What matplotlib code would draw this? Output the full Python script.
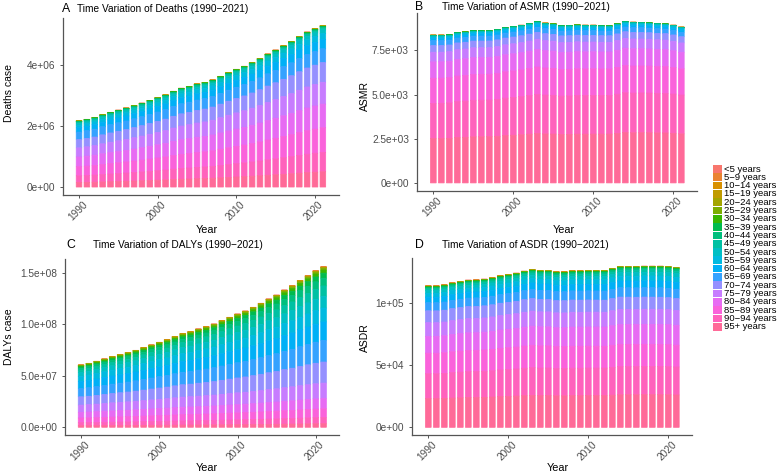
import numpy as np
import matplotlib
matplotlib.use("Agg")
import matplotlib.pyplot as plt
from matplotlib.patches import Rectangle
from matplotlib.transforms import ScaledTranslation

plt.rcParams['font.family'] = ['Liberation Sans', 'DejaVu Sans']

# ---------------- data ----------------
years = list(range(1990, 2022))
age_groups = ["<5 years", "5\u22129 years", "10\u221214 years", "15\u221219 years", "20\u221224 years",
              "25\u221229 years", "30\u221234 years", "35\u221239 years", "40\u221244 years", "45\u221249 years",
              "50\u221254 years", "55\u221259 years", "60\u221264 years", "65\u221269 years", "70\u221274 years",
              "75\u221279 years", "80\u221284 years", "85\u221289 years", "90\u221294 years", "95+ years"]

# bar totals
deaths_total = [2.17, 2.22, 2.28, 2.37, 2.45, 2.52, 2.59, 2.67, 2.75, 2.84,
                2.93, 3.02, 3.14, 3.24, 3.30, 3.38, 3.43, 3.51, 3.63, 3.75,
                3.86, 3.96, 4.08, 4.21, 4.36, 4.49, 4.63, 4.77, 4.93, 5.08,
                5.19, 5.29]            # x 1e6
asmr_total = [8.37, 8.37, 8.40, 8.52, 8.56, 8.63, 8.63, 8.63, 8.69, 8.80,
              8.86, 8.93, 9.03, 9.14, 9.05, 9.01, 8.91, 8.92, 8.95, 8.93,
              8.93, 8.91, 8.90, 9.01, 9.14, 9.10, 9.09, 9.07, 9.03, 9.01,
              8.93, 8.82]              # x 1e3
dalys_total = [6.04, 6.20, 6.40, 6.62, 6.85, 7.04, 7.24, 7.46, 7.72, 7.98,
               8.24, 8.49, 8.79, 9.08, 9.27, 9.53, 9.75, 10.01, 10.34, 10.66,
               10.98, 11.27, 11.63, 12.02, 12.44, 12.82, 13.31, 13.73, 14.24, 14.70,
               15.18, 15.57]           # x 1e7
asdr_total = [11.36, 11.36, 11.44, 11.60, 11.71, 11.82, 11.84, 11.90, 12.01, 12.17,
              12.27, 12.38, 12.54, 12.67, 12.59, 12.59, 12.49, 12.49, 12.57, 12.57,
              12.59, 12.59, 12.59, 12.75, 12.91, 12.91, 12.91, 12.94, 12.94, 12.94,
              12.91, 12.83]            # x 1e4

# age shares (per 10 000) of each bar, estimated from the colour bands
# ---- Deaths ----
deaths_s00 = [12,12,12,12,11,11,11,11,11,11,10,10,10,10,10,10, 10,10,9,9,9,9,9,9,9,9,8,8,8,8,8,8]
deaths_s05 = [6,6,6,6,6,6,6,6,6,5,5,5,5,5,5,5, 5,5,5,5,5,5,5,4,4,4,4,4,4,4,4,4]
deaths_s10 = [6,6,6,6,6,6,6,6,6,5,5,5,5,5,5,5, 5,5,5,5,5,5,5,4,4,4,4,4,4,4,4,4]
deaths_s15 = [8,8,8,8,8,8,8,8,7,7,7,7,7,7,7,7, 7,7,7,7,7,7,6,6,6,6,6,6,6,6,6,6]
deaths_s20 = [12,12,12,12,11,11,11,11,11,11,10,10,10,10,10,10, 10,10,9,9,9,9,9,9,9,9,8,8,8,8,8,8]
deaths_s25 = [20,20,19,19,19,19,18,18,18,18,17,17,17,17,16,16, 16,16,15,15,15,15,14,14,14,14,13,13,13,13,12,12]
deaths_s30 = [30,30,29,29,29,28,28,28,27,27,27,26,26,26,25,25, 25,25,24,24,24,23,23,23,22,22,22,21,21,21,20,20]
deaths_s35 = [50,49,49,48,47,47,46,45,45,44,44,43,42,42,41,40, 40,39,38,38,37,36,36,35,34,34,33,32,32,31,31,30]
deaths_s40 = [90,89,88,87,86,85,84,83,82,81,80,79,78,77,76,75, 75,74,73,72,71,70,69,68,67,66,65,64,63,62,61,60]
deaths_s45 = [160,158,157,155,153,152,150,149,147,145,144,142,140,139,137,136, 134,132,131,129,127,126,124,123,121,119,118,116,114,113,111,110]
deaths_s50 = [250,249,249,248,247,247,246,245,245,244,244,243,242,242,241,240, 240,239,238,238,237,236,236,235,234,234,233,232,232,231,231,230]
deaths_s55 = [410,409,408,407,406,405,404,403,402,401,400,399,398,397,396,395, 395,394,393,392,391,390,389,388,387,386,385,384,383,382,381,380]
deaths_s60 = [650,647,645,642,640,637,635,632,629,627,624,622,619,616,614,611, 609,606,604,601,598,596,593,591,588,585,583,580,578,575,573,570]
deaths_s65 = [1150,1140,1131,1121,1111,1102,1092,1082,1073,1063,1053,1044,1034,1024,1015,1005, 995,985,976,966,956,947,937,927,918,908,898,889,879,869,860,850]
deaths_s70 = [1240,1242,1244,1246,1248,1250,1250,1250,1248,1246,1244,1242,1240,1240,1240,1240, 1240,1240,1238,1236,1234,1232,1230,1230,1230,1230,1230,1230,1230,1230,1230,1230]
deaths_s75 = [1380,1382,1384,1386,1388,1390,1392,1394,1396,1398,1400,1400,1398,1396,1394,1392, 1390,1388,1386,1384,1382,1380,1378,1376,1374,1372,1370,1368,1366,1364,1362,1360]
deaths_s80 = [1470,1472,1474,1476,1478,1480,1482,1484,1486,1488,1490,1490,1490,1490,1490,1488, 1486,1484,1482,1480,1478,1476,1475,1474,1473,1472,1471,1470,1470,1470,1470,1470]
deaths_s85 = [1380,1385,1390,1395,1399,1404,1409,1414,1419,1424,1428,1433,1438,1443,1448,1453, 1457,1462,1467,1472,1477,1482,1486,1491,1496,1501,1506,1511,1515,1520,1525,1530]
deaths_s90 = [1010,1016,1023,1029,1036,1042,1049,1055,1062,1068,1075,1081,1087,1094,1100,1107, 1113,1120,1126,1133,1139,1145,1152,1158,1165,1171,1178,1184,1191,1197,1204,1210]
deaths_s95 = [690,698,707,715,724,732,740,749,757,765,774,782,791,799,807,816, 824,833,841,849,858,866,875,883,891,900,908,916,925,933,942,950]

# ---- ASMR ----
asmr_s00 = [6,6,6,6,6,6,6,6,6,6,6,6,6,6,6,6, 5,5,5,5,5,5,5,5,5,5,5,5,5,5,5,5]
asmr_s05 = [2,2,2,2,2,2,2,2,2,2,2,2,2,2,2,2, 1,1,1,1,1,1,1,1,1,1,1,1,1,1,1,1]
asmr_s10 = [2,2,2,2,2,2,2,2,2,2,2,2,2,2,2,2, 1,1,1,1,1,1,1,1,1,1,1,1,1,1,1,1]
asmr_s15 = [2,2,2,2,2,2,2,2,2,2,2,2,2,2,2,2, 2,2,2,2,2,2,2,2,2,2,2,2,2,2,2,2]
asmr_s20 = [4,4,4,4,4,4,4,4,3,3,3,3,3,3,3,3, 3,3,3,3,3,3,2,2,2,2,2,2,2,2,2,2]
asmr_s25 = [5,5,5,5,5,5,5,5,4,4,4,4,4,4,4,4, 4,4,4,4,4,4,3,3,3,3,3,3,3,3,3,3]
asmr_s30 = [7,7,7,7,7,7,7,7,6,6,6,6,6,6,6,6, 6,6,6,6,6,6,5,5,5,5,5,5,5,5,5,5]
asmr_s35 = [12,12,12,12,11,11,11,11,11,11,10,10,10,10,10,10, 10,10,9,9,9,9,9,9,9,9,8,8,8,8,8,8]
asmr_s40 = [18,18,18,18,17,17,17,17,17,17,16,16,16,16,16,16, 16,16,15,15,15,15,15,15,15,15,14,14,14,14,14,14]
asmr_s45 = [30,30,30,29,29,29,29,28,28,28,28,27,27,27,27,26, 26,26,26,25,25,25,25,24,24,24,24,24,23,23,23,23]
asmr_s50 = [48,48,48,48,48,47,47,47,47,47,47,47,47,47,47,47, 46,46,46,46,46,46,46,46,46,46,45,45,45,45,45,45]
asmr_s55 = [83,83,83,83,83,82,82,82,82,82,82,82,81,81,81,81, 81,81,81,80,80,80,80,80,80,80,79,79,79,79,79,79]
asmr_s60 = [155,155,154,154,154,154,153,153,153,153,152,152,152,152,151,151, 151,151,150,150,150,150,149,149,149,149,148,148,148,148,147,147]
asmr_s65 = [333,331,330,328,327,325,323,322,320,318,317,315,314,312,310,309, 307,306,304,302,301,299,298,296,294,293,291,289,288,286,285,283]
asmr_s70 = [452,450,448,447,445,443,441,440,438,436,434,432,431,429,427,425, 424,422,420,418,417,415,413,411,409,408,406,404,402,401,399,397]
asmr_s75 = [655,653,651,650,648,646,644,643,641,639,637,635,634,632,630,628, 627,625,623,621,620,618,616,614,612,611,609,607,605,604,602,600]
asmr_s80 = [1107,1106,1104,1103,1102,1100,1099,1098,1096,1095,1093,1092,1091,1089,1088,1087, 1085,1084,1083,1081,1080,1079,1077,1076,1074,1073,1072,1070,1069,1068,1066,1065]
asmr_s85 = [1702,1701,1700,1700,1699,1698,1697,1696,1696,1695,1694,1693,1692,1692,1691,1690, 1689,1688,1687,1687,1686,1685,1684,1683,1683,1682,1681,1680,1679,1679,1678,1677]
asmr_s90 = [2380,2384,2387,2391,2395,2398,2402,2406,2409,2413,2416,2420,2424,2427,2431,2435, 2438,2442,2446,2449,2453,2457,2460,2464,2467,2471,2475,2478,2482,2486,2489,2493]
asmr_s95 = [2999,3004,3009,3014,3018,3023,3028,3033,3038,3043,3048,3053,3057,3062,3067,3072, 3077,3082,3087,3092,3096,3101,3106,3111,3116,3121,3126,3131,3135,3140,3145,3150]

# ---- DALYs ----
dalys_s00 = [17,17,17,17,17,17,17,17,17,17,18,18,18,18,18,18, 18,18,18,18,18,18,18,19,19,19,19,19,19,19,19,19]
dalys_s05 = [10,10,10,10,10,10,10,10,10,10,10,10,10,10,10,10, 10,10,10,10,10,10,10,10,10,10,10,10,10,10,10,10]
dalys_s10 = [13,13,13,13,13,13,14,14,14,14,14,14,14,14,14,14, 15,15,15,15,15,15,15,15,15,15,16,16,16,16,16,16]
dalys_s15 = [25,25,25,25,25,25,25,25,25,25,25,25,25,25,25,25, 26,26,26,26,26,26,26,26,26,26,26,26,26,26,26,26]
dalys_s20 = [41,41,41,41,41,42,42,42,42,42,42,42,42,43,43,43, 43,43,43,43,43,44,44,44,44,44,44,44,45,45,45,45]
dalys_s25 = [83,83,84,84,85,85,86,86,86,87,87,88,88,88,89,89, 90,90,91,91,91,92,92,93,93,93,94,94,95,95,96,96]
dalys_s30 = [132,134,136,138,140,142,144,146,147,149,151,153,155,157,159,161, 163,165,167,169,171,173,175,177,178,180,182,184,186,188,190,192]
dalys_s35 = [199,203,207,211,215,218,222,226,230,234,238,242,246,250,254,258, 261,265,269,273,277,281,285,289,293,297,300,304,308,312,316,320]
dalys_s40 = [298,304,310,316,321,327,333,339,345,351,357,363,368,374,380,386, 392,398,404,410,415,421,427,433,439,445,451,457,462,468,474,480]
dalys_s45 = [414,421,429,436,443,450,458,465,472,480,487,494,501,509,516,523, 531,538,545,552,560,567,574,582,589,596,603,611,618,625,633,640]
dalys_s50 = [579,584,589,594,599,604,609,614,620,625,630,635,640,645,650,655, 660,665,670,675,680,685,690,695,701,706,711,716,721,726,731,736]
dalys_s55 = [827,828,829,831,832,833,834,835,837,838,839,840,841,843,844,845, 846,847,848,850,851,852,853,854,856,857,858,859,860,862,863,864]
dalys_s60 = [1158,1158,1158,1157,1157,1157,1157,1157,1156,1156,1156,1156,1156,1155,1155,1155, 1155,1155,1154,1154,1154,1154,1154,1153,1153,1153,1153,1153,1152,1152,1152,1152]
dalys_s65 = [1324,1325,1325,1326,1327,1327,1328,1329,1329,1330,1330,1331,1332,1332,1333,1334, 1334,1335,1336,1336,1337,1338,1338,1339,1339,1340,1341,1341,1342,1343,1343,1344]
dalys_s70 = [1324,1324,1323,1323,1322,1322,1322,1321,1321,1320,1320,1320,1319,1319,1318,1318, 1318,1317,1317,1317,1316,1316,1315,1315,1315,1314,1314,1313,1313,1313,1312,1312]
dalys_s75 = [1158,1152,1145,1139,1132,1126,1120,1113,1107,1101,1094,1088,1081,1075,1069,1062, 1056,1049,1043,1037,1030,1024,1017,1011,1005,998,992,986,979,973,966,960]
dalys_s80 = [910,901,893,884,875,866,858,849,840,832,823,814,805,797,788,779, 771,762,753,745,736,727,718,710,701,692,684,675,666,658,649,640]
dalys_s85 = [745,739,732,726,719,713,706,700,693,687,680,674,667,661,654,648, 641,635,628,622,615,609,602,596,589,583,576,570,563,557,550,544]
dalys_s90 = [496,492,489,485,482,478,474,471,467,463,460,456,453,449,445,442, 438,434,431,427,424,420,416,413,409,406,402,398,395,391,387,384]
dalys_s95 = [248,247,246,246,245,244,243,243,242,241,240,239,239,238,237,236, 236,235,234,233,233,232,231,230,229,229,228,227,226,226,225,224]

# ---- ASDR ----
asdr_s00 = [18,18,18,18,18,18,18,18,17,17,17,17,17,17,17,17, 17,17,17,17,17,17,17,16,16,16,16,16,16,16,16,16]
asdr_s05 = [6,6,6,6,6,6,6,6,6,5,5,5,5,5,5,5, 5,5,5,5,5,5,5,4,4,4,4,4,4,4,4,4]
asdr_s10 = [7,7,7,7,7,7,7,7,6,6,6,6,6,6,6,6, 6,6,6,6,6,6,6,5,5,5,5,5,5,5,5,5]
asdr_s15 = [9,9,9,9,9,9,8,8,8,8,8,8,8,8,8,7, 7,7,7,7,7,7,7,7,7,6,6,6,6,6,6,6]
asdr_s20 = [13,13,13,13,12,12,12,12,12,12,11,11,11,11,11,11, 10,10,10,10,10,10,9,9,9,9,9,9,8,8,8,8]
asdr_s25 = [18,18,18,18,18,18,18,18,17,17,17,17,17,17,17,17, 17,17,17,17,17,17,17,16,16,16,16,16,16,16,16,16]
asdr_s30 = [26,26,26,26,27,27,27,27,27,27,28,28,28,28,28,28, 29,29,29,29,29,29,30,30,30,30,30,30,30,31,31,31]
asdr_s35 = [44,44,45,45,45,46,46,46,47,47,47,48,48,48,49,49, 49,49,50,50,50,51,51,51,52,52,52,53,53,53,54,54]
asdr_s40 = [79,79,80,80,81,81,82,82,83,83,84,84,84,85,85,86, 86,87,87,88,88,89,89,89,90,90,91,91,92,92,93,93]
asdr_s45 = [123,124,125,126,127,128,129,130,132,133,134,135,136,137,138,139, 140,141,142,143,144,145,146,147,149,150,151,152,153,154,155,156]
asdr_s50 = [194,195,197,198,199,200,202,203,204,205,207,208,209,210,212,213, 214,215,217,218,219,220,222,223,224,225,227,228,229,230,232,233]
asdr_s55 = [264,266,267,269,270,272,273,275,276,278,279,281,282,284,285,287, 288,290,291,293,294,296,297,299,300,302,303,305,306,308,309,311]
asdr_s60 = [396,397,398,399,400,401,402,403,404,405,406,407,408,409,410,411, 413,414,415,416,417,418,419,420,421,422,423,424,425,426,427,428]
asdr_s65 = [572,572,573,573,574,574,574,575,575,575,576,576,576,577,577,577, 578,578,578,579,579,579,580,580,581,581,581,582,582,583,583,584]
asdr_s70 = [836,833,830,827,823,820,817,814,811,808,805,802,798,795,792,789, 786,783,780,777,773,770,767,764,761,758,755,752,748,745,742,739]
asdr_s75 = [968,967,966,965,964,963,961,960,959,958,957,956,955,954,953,952, 950,949,948,947,946,945,944,943,942,941,939,938,937,936,935,934]
asdr_s80 = [1188,1190,1192,1194,1195,1197,1199,1201,1203,1205,1206,1208,1210,1212,1214,1216, 1217,1219,1221,1223,1225,1227,1228,1230,1232,1234,1236,1238,1239,1241,1243,1245]
asdr_s85 = [1452,1449,1446,1443,1440,1437,1435,1432,1429,1426,1423,1420,1417,1414,1411,1408, 1406,1403,1400,1397,1394,1391,1388,1385,1382,1379,1377,1374,1371,1368,1365,1362]
asdr_s90 = [1761,1761,1760,1760,1760,1759,1759,1759,1758,1758,1758,1757,1757,1757,1756,1756, 1756,1755,1755,1755,1754,1754,1754,1753,1753,1753,1752,1752,1752,1751,1751,1751]
asdr_s95 = [2025,2025,2025,2025,2025,2025,2025,2025,2025,2025,2025,2025,2025,2025,2025,2025, 2024,2024,2024,2024,2024,2024,2024,2024,2024,2024,2024,2024,2024,2024,2024,2024]

deaths_shares = [deaths_s00, deaths_s05, deaths_s10, deaths_s15, deaths_s20, deaths_s25, deaths_s30,
                 deaths_s35, deaths_s40, deaths_s45, deaths_s50, deaths_s55, deaths_s60, deaths_s65,
                 deaths_s70, deaths_s75, deaths_s80, deaths_s85, deaths_s90, deaths_s95]
asmr_shares = [asmr_s00, asmr_s05, asmr_s10, asmr_s15, asmr_s20, asmr_s25, asmr_s30,
               asmr_s35, asmr_s40, asmr_s45, asmr_s50, asmr_s55, asmr_s60, asmr_s65,
               asmr_s70, asmr_s75, asmr_s80, asmr_s85, asmr_s90, asmr_s95]
dalys_shares = [dalys_s00, dalys_s05, dalys_s10, dalys_s15, dalys_s20, dalys_s25, dalys_s30,
                dalys_s35, dalys_s40, dalys_s45, dalys_s50, dalys_s55, dalys_s60, dalys_s65,
                dalys_s70, dalys_s75, dalys_s80, dalys_s85, dalys_s90, dalys_s95]
asdr_shares = [asdr_s00, asdr_s05, asdr_s10, asdr_s15, asdr_s20, asdr_s25, asdr_s30,
               asdr_s35, asdr_s40, asdr_s45, asdr_s50, asdr_s55, asdr_s60, asdr_s65,
               asdr_s70, asdr_s75, asdr_s80, asdr_s85, asdr_s90, asdr_s95]

# ---------------- helpers ----------------
def hcl_rgb(h, c=100.0, l=65.0):
    hr = np.deg2rad(h)
    U, V = c * np.cos(hr), c * np.sin(hr)
    Xn, Yn, Zn = 95.047, 100.0, 108.883
    den = Xn + 15 * Yn + 3 * Zn
    un, vn = 4 * Xn / den, 9 * Yn / den
    Y = Yn * ((l + 16) / 116) ** 3
    u = U / (13 * l) + un
    v = V / (13 * l) + vn
    X = 9.0 * Y * u / (4 * v)
    Z = -X / 3 - 5 * Y + 3 * Y / v
    X, Y, Z = X / 100, Y / 100, Z / 100
    r = 3.240479 * X - 1.537150 * Y - 0.498535 * Z
    g = -0.969256 * X + 1.875992 * Y + 0.041556 * Z
    b = 0.055648 * X - 0.204043 * Y + 1.057311 * Z
    def gam(t):
        return 12.92 * t if t <= 0.0031308 else 1.055 * t ** (1 / 2.4) - 0.055
    return tuple(min(1.0, max(0.0, gam(t))) for t in (r, g, b))

n_age = len(age_groups)
colors = [hcl_rgb(15 + 360.0 * i / n_age) for i in range(n_age)]

W, H = 782, 473
fig = plt.figure(figsize=(W / 100, H / 100), dpi=100)
fig.patch.set_facecolor('white')

AX_COL = '#555555'
TXT_COL = '#4d4d4d'

def fx(x):
    return x / W

def fy(y):
    return 1 - y / H

def panel(rect, totals, shares, unit, yticks, ylabels, tag, title, tagxy, titlexy,
          ylab, ylabxy, xlabxy):
    left, top, right, bottom = rect
    ax = fig.add_axes([fx(left), fy(bottom), fx(right) - fx(left), fy(top) - fy(bottom)])
    sh = np.array(shares, dtype=float)
    frac = sh / sh.sum(axis=0)
    vals = frac * np.array(totals) * unit
    # stacked: 95+ at the bottom, <5 on top (drawn top group first so the
    # big lower bands sit over the thin outlines of the tiny young-age bands)
    below = np.cumsum(vals[::-1], axis=0)[::-1] - vals   # base of each band
    for i in range(n_age):
        ax.bar(years, vals[i], width=0.72, bottom=below[i], color=colors[i],
               edgecolor=colors[i], linewidth=0.5, snap=False)
    ymax = max(totals) * unit
    ax.set_ylim(-0.05 * ymax, 1.05 * ymax)
    ax.set_xlim(1988.0, 2023.0)
    for s in ('top', 'right'):
        ax.spines[s].set_visible(False)
    for s in ('left', 'bottom'):
        ax.spines[s].set_color(AX_COL)
        ax.spines[s].set_linewidth(0.9)
        ax.spines[s].set_zorder(5)
    ax.set_yticks(yticks)
    ax.set_yticklabels(ylabels)
    ax.set_xticks([1990, 2000, 2010, 2020])
    ax.set_xticklabels(['1990', '2000', '2010', '2020'], rotation=45, ha='right', va='top',
                       rotation_mode='anchor')
    ax.tick_params(axis='both', colors=AX_COL, labelcolor=TXT_COL, labelsize=7.3,
                   length=2.5, width=0.7)
    ax.tick_params(axis='y', pad=3.5)
    ax.tick_params(axis='x', pad=0.5)
    shift = ScaledTranslation(3 / 100, 0, fig.dpi_scale_trans)
    for lab in ax.get_xticklabels():
        lab.set_transform(lab.get_transform() + shift)
    fig.text(fx(tagxy[0]), fy(tagxy[1]), tag, fontsize=8.8, ha='left', va='center', color='black')
    fig.text(fx(titlexy[0]), fy(titlexy[1]), title, fontsize=7.3, ha='left', va='center',
             color='black')
    fig.text(fx(ylabxy[0]), fy(ylabxy[1]), ylab, fontsize=7.5, rotation=90, ha='center',
             va='center', color='black')
    fig.text(fx(xlabxy[0]), fy(xlabxy[1]), 'Year', fontsize=7.8, ha='center', va='center',
             color='black')
    return ax

panel((63.3, 17.6, 338.6, 195.1), deaths_total, deaths_shares, 1e6,
      [0, 2e6, 4e6], ['0e+00', '2e+06', '4e+06'],
      'A', 'Time Variation of Deaths (1990\u22122021)', (62, 9), (77, 9),
      'Deaths case', (9, 93), (207, 230))
panel((417.3, 13.4, 697.3, 191.0), asmr_total, asmr_shares, 1e3,
      [0, 2500, 5000, 7500], ['0e+00', '2.5e+03', '5.0e+03', '7.5e+03'],
      'B', 'Time Variation of ASMR (1990\u22122021)', (415, 7), (442, 7),
      'ASMR', (365, 96), (564, 230))
panel((65.4, 258.6, 339.2, 435.3), dalys_total, dalys_shares, 1e7,
      [0, 5e7, 1e8, 1.5e8], ['0.0e+00', '5.0e+07', '1.0e+08', '1.5e+08'],
      'C', 'Time Variation of DALYs (1990\u22122021)', (66, 245), (93, 245),
      'DALYs case', (9, 337), (207, 468))
panel((412.3, 258.0, 692.3, 435.4), asdr_total, asdr_shares, 1e4,
      [0, 5e4, 1e5], ['0e+00', '5e+04', '1e+05'],
      'D', 'Time Variation of ASDR (1990\u22122021)', (415, 245), (442, 245),
      'ASDR', (365, 338), (558, 468))

# ---------------- legend ----------------
leg = fig.add_axes([0, 0, 1, 1])
leg.set_xlim(0, W)
leg.set_ylim(H, 0)
leg.axis('off')
leg.patch.set_alpha(0)
step = 8.3
for i, lab in enumerate(age_groups):
    yc = 169 + step * i
    leg.add_patch(Rectangle((713.3, yc - step / 2 + 0.3), 8.7, step - 0.6,
                            facecolor=colors[i], edgecolor='none'))
    leg.text(724.5, yc, lab, fontsize=6.8, ha='left', va='center', color='black')

fig.savefig('out.png', dpi=100)
